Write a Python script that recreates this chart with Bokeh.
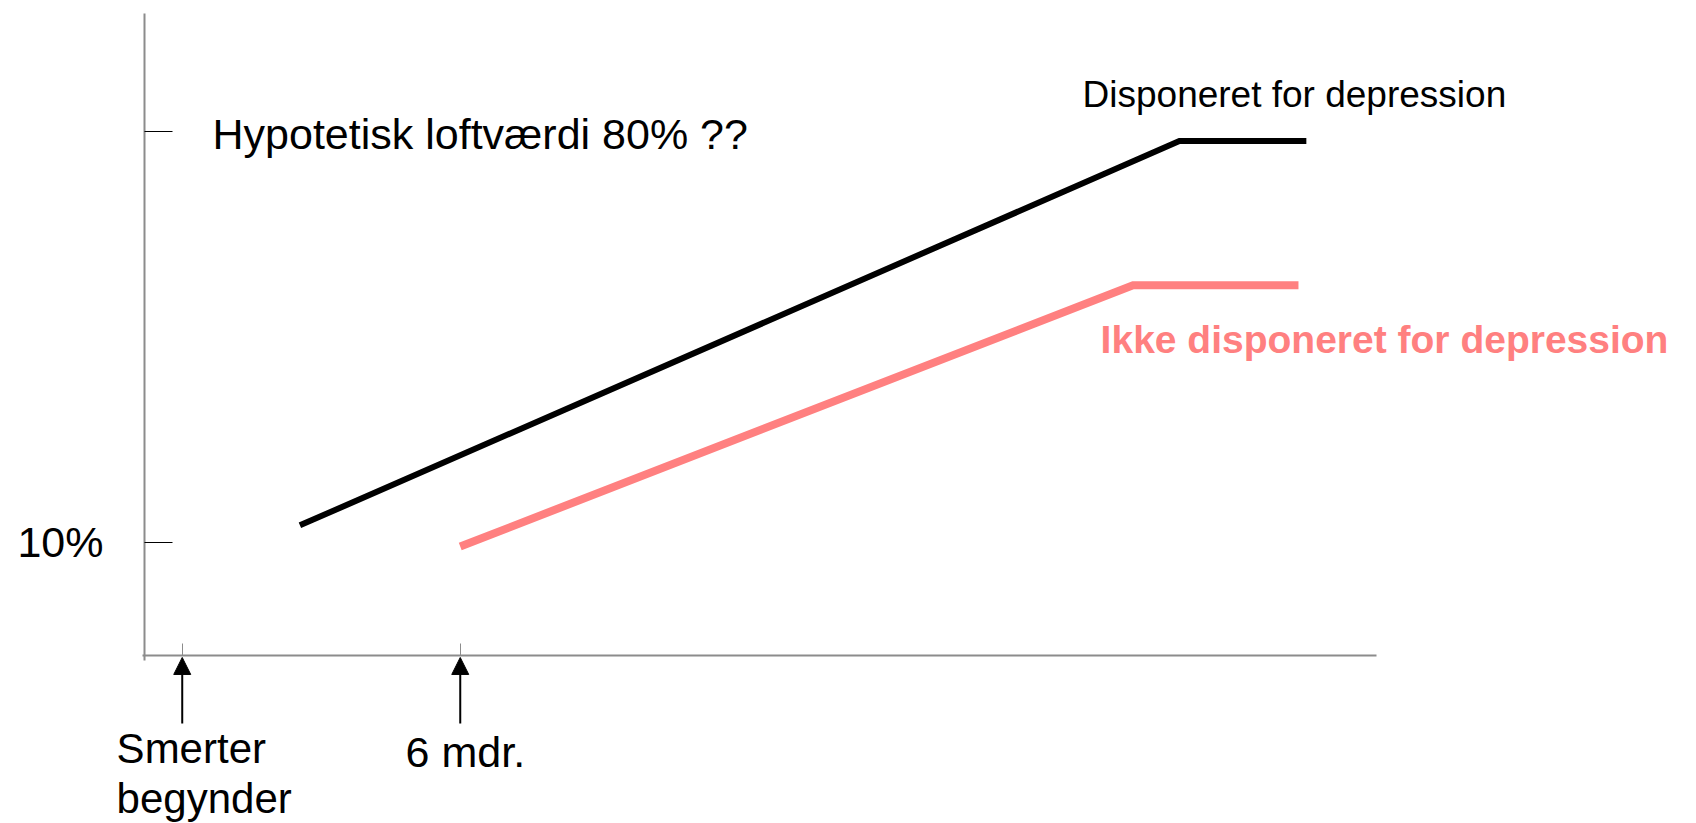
from bokeh.plotting import figure
from bokeh.models import Range1d, FixedTicker, Label, Arrow, NormalHead
from bokeh.embed import file_html
from bokeh.resources import INLINE

# ---- data (x: months since pain onset, y: percent) ----
months_dispo = [2.54, 21.52, 24.26]
pct_dispo = [12.9, 78.35, 78.35]
months_ikke = [6.0, 20.52, 24.09]
pct_ikke = [9.3, 53.8, 53.8]

y_ticks = [10, 80]
y_tick_labels = {10: "10%", 80: ""}
x_ticks = [0, 6]
x_tick_texts = ["Smerter\nbegynder", "6 mdr."]

label_dispo = "Disponeret for depression"
label_ikke = "Ikke disponeret for depression"
label_ceiling = "Hypotetisk loftværdi 80% ??"

# axis extents (data units)
x_axis_min, x_axis_max = -0.86, 25.78
y_axis_min, y_axis_max = -9.27, 100.08

FONT = "Liberation Sans"
BLACK = "#000000"
PINK = "#FF8080"
AXIS_GRAY = "#8c8c8c"

p = figure(width=1696, height=823,
           x_range=Range1d(-3.922, 32.68), y_range=Range1d(-37.88, 102.3),
           output_backend="svg", toolbar_location=None,
           min_border=0, min_border_left=0, min_border_right=0,
           min_border_top=0, min_border_bottom=0)
p.outline_line_color = None
p.grid.visible = False
p.background_fill_color = "white"
p.border_fill_color = "white"

# y axis
ya = p.yaxis[0]
ya.fixed_location = -0.814
ya.bounds = (y_axis_min - 0.8, y_axis_max)
ya.ticker = FixedTicker(ticks=y_ticks)
ya.major_label_overrides = y_tick_labels
ya.major_tick_in = 28
ya.major_tick_out = 0
ya.major_tick_line_color = BLACK
ya.major_tick_line_width = 1
ya.minor_tick_line_color = None
ya.axis_line_color = AXIS_GRAY
ya.axis_line_width = 2
ya.major_label_standoff = 41
ya.major_label_text_font = FONT
ya.major_label_text_font_size = "43px"
ya.major_label_text_color = BLACK

# x axis
xa = p.xaxis[0]
xa.fixed_location = y_axis_min
xa.bounds = (x_axis_min, x_axis_max)
xa.ticker = FixedTicker(ticks=x_ticks)
xa.major_label_overrides = {t: "" for t in x_ticks}
xa.major_tick_in = 12
xa.major_tick_out = 0
xa.major_tick_line_color = AXIS_GRAY
xa.major_tick_line_width = 1
xa.minor_tick_line_color = None
xa.axis_line_color = AXIS_GRAY
xa.axis_line_width = 2

# lines
p.line(months_dispo, pct_dispo, line_color=BLACK, line_width=6, line_join="miter")
p.line(months_ikke, pct_ikke, line_color=PINK, line_width=8, line_join="miter")

# text labels
p.add_layout(Label(x=0.654, y=79.5, text=label_ceiling, text_font=FONT,
                   text_font_size="43px", text_color=BLACK,
                   text_align="left", text_baseline="middle"))
p.add_layout(Label(x=19.43, y=86.3, text=label_dispo, text_font=FONT,
                   text_font_size="37px", text_color=BLACK,
                   text_align="left", text_baseline="middle"))
p.add_layout(Label(x=19.82, y=44.6, text=label_ikke, text_font=FONT,
                   text_font_size="39px", text_font_style="bold", text_color=PINK,
                   text_align="left", text_baseline="middle"))

# arrows + labels under x axis
line_offsets = [-25.1, -33.6]
for xt, txt in zip(x_ticks, x_tick_texts):
    p.add_layout(Arrow(end=NormalHead(size=17, fill_color=BLACK, line_color=BLACK),
                       x_start=xt, y_start=-20.85, x_end=xt, y_end=-9.6,
                       line_color=BLACK, line_width=2))
    lines = txt.split("\n")
    if len(lines) > 1:
        for i, ln in enumerate(lines):
            p.add_layout(Label(x=xt - 1.416, y=line_offsets[i], text=ln, text_font=FONT,
                               text_font_size="42px", text_color=BLACK,
                               text_align="left", text_baseline="middle"))
    else:
        p.add_layout(Label(x=xt + 0.11, y=-25.7, text=txt, text_font=FONT,
                           text_font_size="43px", text_color=BLACK,
                           text_align="center", text_baseline="middle"))

open("out.html", "w").write(file_html(p, INLINE))
